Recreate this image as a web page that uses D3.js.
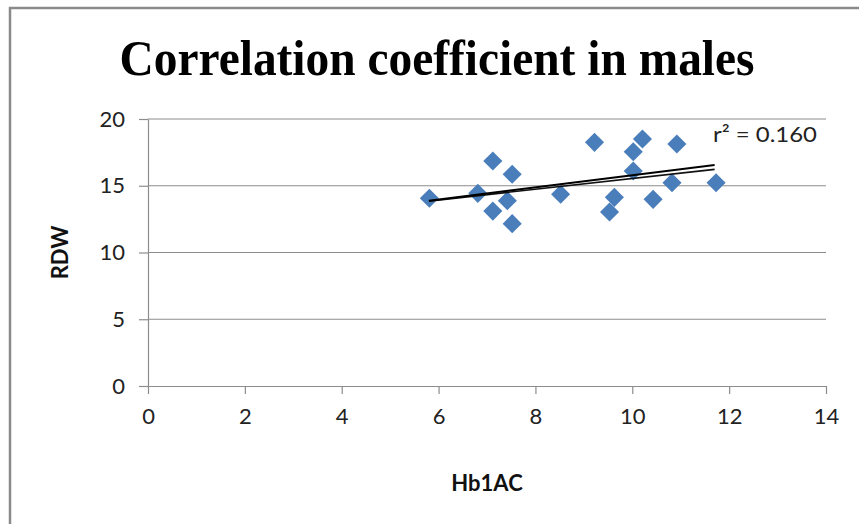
<!DOCTYPE html>
<html><head><meta charset="utf-8">
<script src="https://cdn.jsdelivr.net/npm/d3@7/dist/d3.min.js"></script>
<style>html,body{margin:0;padding:0;background:#fff;}svg{display:block;}</style>
</head><body>
<svg id="c" width="859" height="524"></svg>
<script>
const titleText = "Correlation coefficient in males";
const xLabel = "Hb1AC";
const yLabel = "RDW";
const hba1c = [5.81, 6.81, 7.12, 7.52, 7.42, 7.12, 7.52, 8.52, 9.22, 9.63, 9.53, 10.02, 10.21, 10.02, 10.43, 10.92, 10.82, 11.73];
const rdw   = [14.06, 14.43, 16.85, 15.86, 13.88, 13.10, 12.16, 14.36, 18.25, 14.13, 13.03, 17.55, 18.50, 16.10, 13.98, 18.13, 15.23, 15.23];
const xTicks = [0, 2, 4, 6, 8, 10, 12, 14];
const yTicks = [0, 5, 10, 15, 20];
const trendX = [5.8, 11.7];
const trendA = [13.88, 16.55];
const trendB = [13.85, 16.23];
const r2Label = "r² = 0.160";

const svg = d3.select("#c");
const W = 859, H = 524;
const L = 148, R = 826, T = 119, B = 386;
const x = d3.scaleLinear().domain([0, 14]).range([L, R]);
const y = d3.scaleLinear().domain([0, 20]).range([B, T]);

// outer border (top & left visible)
svg.append("path").attr("d", `M10,${H} L10,8 L${W},8`)
  .attr("fill", "none").attr("stroke", "#8a8a8a").attr("stroke-width", 2.5);

// title
svg.append("text").attr("x", 437).attr("y", 75).attr("text-anchor", "middle")
  .attr("font-family", "Liberation Serif, Times New Roman, serif").attr("font-weight", "bold")
  .attr("font-size", 50).attr("fill", "#000").text(titleText)
  .attr("textLength", 635).attr("lengthAdjust", "spacingAndGlyphs");

// gridlines
svg.append("g").selectAll("line").data(yTicks.filter(d => d > 0)).join("line")
  .attr("x1", L).attr("x2", R).attr("y1", d => y(d)).attr("y2", d => y(d))
  .attr("stroke", "#8c8c8c").attr("stroke-width", 1.2);

// y axis
const ya = svg.append("g").attr("transform", `translate(${L},0)`)
  .call(d3.axisLeft(y).tickValues(yTicks).tickSize(9).tickPadding(14).tickSizeOuter(0));
// x axis
const xa = svg.append("g").attr("transform", `translate(0,${B})`)
  .call(d3.axisBottom(x).tickValues(xTicks).tickSize(8).tickPadding(14).tickSizeOuter(0));
[ya, xa].forEach(g => {
  g.select(".domain").attr("stroke", "#8c8c8c").attr("stroke-width", 1.2);
  g.selectAll(".tick line").attr("stroke", "#8c8c8c").attr("stroke-width", 1.2);
  g.selectAll(".tick text").attr("font-family", "Lato, Open Sans, sans-serif")
    .attr("font-size", 22).attr("fill", "#222");
});

// axis titles
svg.append("text").attr("x", 487).attr("y", 491).attr("text-anchor", "middle")
  .attr("font-family", "Lato, Open Sans, sans-serif").attr("font-weight", "bold")
  .attr("font-size", 22).attr("fill", "#111").text(xLabel);
svg.append("text").attr("transform", `translate(68,${(T + B) / 2}) rotate(-90)`)
  .attr("text-anchor", "middle")
  .attr("font-family", "Lato, Open Sans, sans-serif").attr("font-weight", "bold")
  .attr("font-size", 22).attr("fill", "#111").text(yLabel);

// markers
const pts = hba1c.map((v, i) => ({ x: v, y: rdw[i] }));
svg.append("g").selectAll("path").data(pts).join("path")
  .attr("d", d3.symbol().type(d3.symbolSquare).size(13.5 * 13.5))
  .attr("transform", d => `translate(${x(d.x)},${y(d.y)}) rotate(45)`)
  .attr("fill", "#4a7ebb");

// trend lines
const line = d3.line().x(d => x(d[0])).y(d => y(d[1]));
svg.append("path").datum(trendX.map((v, i) => [v, trendB[i]])).attr("d", line)
  .attr("fill", "none").attr("stroke", "#111").attr("stroke-width", 1.6);
svg.append("path").datum(trendX.map((v, i) => [v, trendA[i]])).attr("d", line)
  .attr("fill", "none").attr("stroke", "#000").attr("stroke-width", 2);

// r² label
svg.append("text").attr("x", 713).attr("y", 142)
  .attr("font-family", "Lato, Open Sans, sans-serif").attr("font-size", 22).attr("fill", "#222")
  .attr("textLength", 104).attr("lengthAdjust", "spacingAndGlyphs")
  .text(r2Label);
</script>
</body></html>
